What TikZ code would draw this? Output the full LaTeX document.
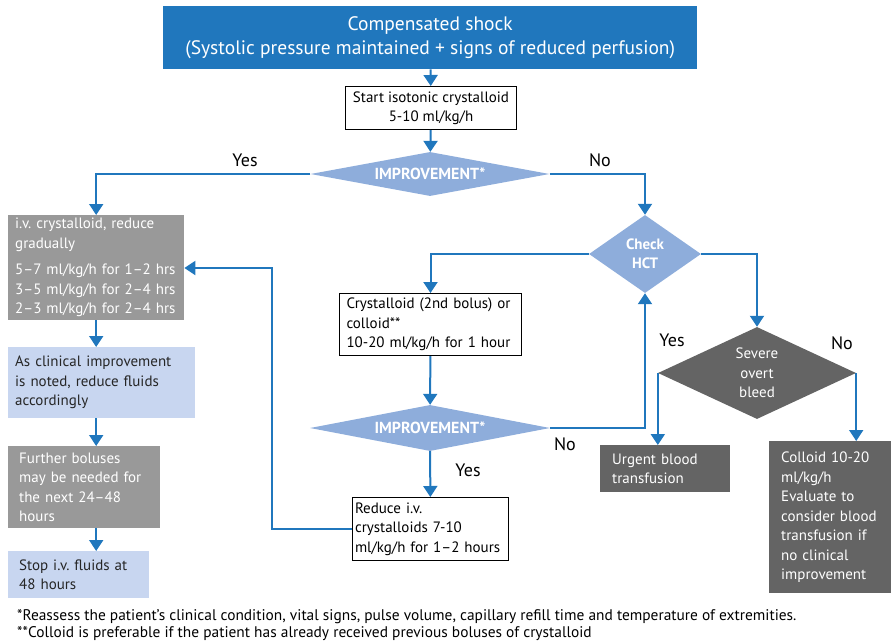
\documentclass[tikz,border=0pt]{standalone}
\usepackage{fontspec}
\setmainfont{PT Sans}
\frenchspacing
\usetikzlibrary{arrows.meta,shapes.geometric}
\definecolor{shockblue}{HTML}{2077BD}
\definecolor{diablue}{HTML}{8EADDB}
\definecolor{paleblue}{HTML}{C8D6F0}
\definecolor{midgrey}{HTML}{999999}
\definecolor{darkgrey}{HTML}{646464}
\tikzset{
  flow/.style={draw=shockblue,line width=2pt},
  flowarr/.style={flow,-{Triangle[width=14pt,length=11pt]}},
  txt/.style={font=\fontsize{15}{19.5}\selectfont},
  box/.style={txt,anchor=north west,inner xsep=7pt,inner ysep=0pt,align=left},
  outline/.style={box,draw=black,line width=1pt,fill=white},
  greybox/.style={box,fill=midgrey,text=white},
  darkbox/.style={box,fill=darkgrey,text=white},
  palebox/.style={box,fill=paleblue,text=black!85},
  decision/.style={diamond,inner sep=0pt,fill=diablue,text=white,
    font=\fontsize{16}{17}\selectfont\bfseries},
  answer/.style={font=\fontsize{18}{20}\selectfont}
}
\begin{document}
\begin{tikzpicture}[x=1pt,y=-1pt]
  \useasboundingbox (0,0) rectangle (891,642);

  \node (shock) [anchor=north west,fill=shockblue,text=white,minimum width=534pt,
    minimum height=63pt,inner sep=0pt,align=center,
    font=\fontsize{19.5}{24}\selectfont] at (163,6)
    {Compensated shock\\(Systolic pressure maintained + signs of reduced perfusion)};
  \node (start) [outline,align=center,minimum width=171pt,minimum height=43pt,
    inner xsep=0pt] at (345,86) {Start isotonic crystalloid\\5-10 ml/kg/h};
  \node (imp1) [decision,aspect=5.4,minimum width=239pt,minimum height=44pt] at (430,174)
    {IMPROVEMENT*};

  % left column
  \node (iv) [greybox,minimum width=176pt,minimum height=105pt,text width=162pt]
    at (8,215) {i.v. crystalloid, reduce\\gradually\\[7pt]5--7 ml/kg/h for 1--2 hrs\\
    3--5 ml/kg/h for 2--4 hrs\\2--3 ml/kg/h for 2--4 hrs};
  \node (clin) [palebox,minimum width=187pt,minimum height=71pt,text width=173pt]
    at (8,347) {As clinical improvement\\is noted, reduce fluids\\accordingly};
  \node (further) [greybox,minimum width=152pt,minimum height=82pt,text width=130pt,
    inner xsep=11pt] at (8,446) {Further boluses\\may be needed for\\the next 24--48\\hours};
  \node (stop) [palebox,minimum width=141pt,minimum height=47pt,text width=119pt,
    inner xsep=11pt] at (8,551) {Stop i.v. fluids at\\48 hours};

  % middle column
  \node (hct) [decision,aspect=1.44,minimum width=112pt,minimum height=78pt,
    font=\fontsize{15}{19}\selectfont\bfseries,align=center] at (645,254) {Check\\HCT};
  \node (cryst) [outline,minimum width=182pt,minimum height=62pt,text width=168pt]
    at (339,293) {Crystalloid (2nd bolus) or\\colloid**\\10-20 ml/kg/h for 1 hour};
  \node (imp2) [decision,aspect=5.2,minimum width=240pt,minimum height=46pt] at (430,428)
    {IMPROVEMENT*};
  \node (reduce) [outline,minimum width=156pt,minimum height=63pt,text width=151pt,
    inner xsep=2.5pt] at (352,497) {Reduce i.v.\\crystalloids 7-10\\ml/kg/h for 1--2 hours};

  % right column
  \node (bleed) [decision,aspect=2.15,fill=darkgrey,minimum width=198pt,minimum height=92pt,
    font=\fontsize{15}{19.5}\selectfont,align=center] at (757,373)
    {Severe\\overt\\bleed};
  \node (urgent) [darkbox,minimum width=120pt,minimum height=47pt,text width=106pt,
    inner xsep=12pt] at (600,445) {Urgent blood\\transfusion};
  \node (colloid) [darkbox,minimum width=122pt,minimum height=152pt,text width=104pt,
    inner xsep=12pt] at (769,441) {Colloid 10-20\\ml/kg/h\\Evaluate to\\consider blood\\
    transfusion if\\no clinical\\improvement};

  \coordinate (back) at (272,268);

  \draw[flowarr] (shock) -- (start);
  \draw[flowarr] (start) -- (imp1);
  \draw[flowarr] (imp1.west) -| (iv.north);
  \draw[flowarr] (imp1.east) -| (hct.north);
  \draw[flowarr] (iv.south) -- (iv.south |- clin.north);
  \draw[flowarr] (iv.south |- clin.south) -- (iv.south |- further.north);
  \draw[flowarr] (iv.south |- further.south) -- (iv.south |- stop.north);
  \draw[flowarr] (hct.west) -| (cryst.north);
  \draw[flowarr] (cryst) -- (imp2);
  \draw[flowarr] (imp2.east) -| (hct.south);
  \draw[flowarr] (imp2) -- (reduce);
  \draw[flowarr] (reduce.west) -| (back) -- (iv.east |- back);
  \draw[flowarr] (hct.east) -| (bleed.north);
  \draw[flowarr] (bleed.west) -- (bleed.west |- urgent.north);
  \draw[flowarr] (bleed.east) -- (bleed.east |- colloid.north);

  \node (yes1) [answer] at (245,160) {Yes};
  \node (no1) [answer] at (600,160) {No};
  \node (yes2) [answer] at (468,470) {Yes};
  \node (no2) [answer] at (565,444) {No};
  \node (yes3) [answer] at (672,340) {Yes};
  \node (no3) [answer] at (842,343) {No};

  \node (note1) [anchor=west,inner sep=0pt,font=\fontsize{15.4}{18}\selectfont]
    at (17,617) {*Reassess the patient’s clinical condition, vital signs, pulse volume,
    capillary refill time and temperature of extremities.};
  \node (note2) [anchor=west,inner sep=0pt,font=\fontsize{15.4}{18}\selectfont]
    at (17,634) {**Colloid is preferable if the patient has already received previous
    boluses of crystalloid};
\end{tikzpicture}
\end{document}
